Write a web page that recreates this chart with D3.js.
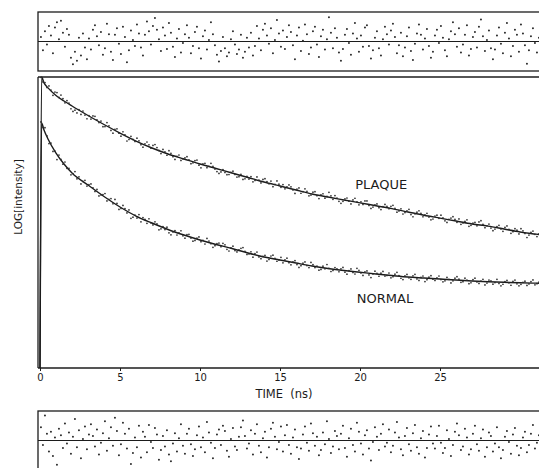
<!DOCTYPE html>
<html lang="en">
<head>
  <meta charset="UTF-8">
  <title>Fluorescence decay: plaque vs normal</title>
  <script src="https://d3js.org/d3.v7.min.js"></script>
  <style>
    body { margin: 0; background: #fff; }
    svg { display: block; }
  </style>
</head>
<body>
  <svg width="539" height="468"></svg>
  <script>
    // fitted decay curves, LOG(intensity)
    const fitTimes = [0, 0.1, 0.25, 0.5, 1, 1.5, 2, 3, 4, 5, 6, 7, 8, 9, 10, 11, 12, 13, 14, 15, 16,
      17, 18, 19, 20, 21, 22, 23, 24, 25, 26, 27, 28, 29, 30, 31, 32];
    const plaqueFit = [0, 4.0, 3.92, 3.85, 3.746, 3.670, 3.601, 3.471, 3.347, 3.230, 3.120, 3.024, 2.942,
      2.873, 2.804, 2.742, 2.680, 2.619, 2.557, 2.502, 2.447, 2.392, 2.35, 2.31, 2.27, 2.23, 2.19, 2.145,
      2.10, 2.06, 2.02, 1.98, 1.95, 1.91, 1.87, 1.84, 1.81];
    const normalFit = [0, 3.368, 3.271, 3.148, 2.955, 2.804, 2.680, 2.515, 2.357, 2.213, 2.089, 1.993, 1.904,
      1.828, 1.759, 1.698, 1.643, 1.581, 1.526, 1.485, 1.443, 1.402, 1.368, 1.340, 1.316, 1.292, 1.271,
      1.251, 1.237, 1.223, 1.209, 1.196, 1.186, 1.178, 1.171, 1.166, 1.160];

    // weighted residuals, one per channel (0.125 ns)
    const channelWidth = 0.125;
    const plaqueResid = [
      0.6,-1.2,1.4,-0.4,2.1,0.8,-1.6,1.9,2.6,0.3,2.8,1.2,-0.7,1.7,0.9,-2.2,-3.1,-1.4,-2.6,0.5,-1.9,1.1,-0.8,-2.4,0.4,
      -1.1,1.6,2.2,0.7,-0.5,1.3,-1.8,-0.9,2.4,1.0,-1.4,-2.5,0.9,1.8,-0.3,-1.7,2.0,0.6,-2.8,-1.2,1.5,0.2,-0.6,2.3,1.1,
      -0.8,-1.9,0.9,2.7,1.4,-0.4,2.1,3.2,1.6,0.3,-1.3,1.9,0.8,-1.0,2.5,1.2,-0.7,-2.1,0.4,1.7,-1.5,-0.2,1.0,2.2,0.5,
      -1.6,-0.6,1.3,2.0,-0.9,-2.3,0.7,1.5,-1.1,0.2,2.6,1.0,-0.5,-1.8,-2.7,-1.3,0.6,-0.9,-2.0,-1.5,0.3,1.4,-0.4,-1.7,-1.1,
      0.9,-2.2,-1.4,0.5,-0.8,1.2,-1.9,-0.6,2.1,0.4,-1.2,1.6,2.4,0.8,-0.3,1.8,-1.6,0.2,2.9,1.1,-0.7,1.5,-1.0,0.6,2.2,
      1.3,-0.5,-2.4,0.8,1.9,-1.3,0.1,2.3,1.0,-1.7,-0.8,1.4,2.0,-0.4,-2.1,0.7,1.6,-1.1,0.3,3.3,1.2,-0.9,1.8,0.5,-1.5,
      -2.6,-1.0,0.9,1.7,-0.2,-1.8,1.1,2.5,0.4,-1.4,0.8,-0.7,1.9,2.2,-0.6,-2.3,-1.2,0.5,1.4,-0.9,-1.9,0.3,2.0,1.0,-0.4,
      1.5,2.4,0.6,-1.6,-0.5,1.2,-2.0,-0.8,0.7,1.9,-1.3,-2.5,-0.3,1.1,2.3,0.9,-1.1,0.4,1.7,-0.6,-2.2,-1.4,0.8,1.6,-0.2,
      2.1,0.5,-1.2,-2.0,0.3,1.4,2.6,1.0,-0.7,1.8,-1.5,-0.4,0.9,2.2,-1.9,-1.0,0.6,1.3,-0.8,2.0,3.0,0.7,-1.3,0.2,1.5,
      -0.9,-2.4,-1.1,0.8,1.9,-0.3,-1.6,1.2,2.5,0.4,-2.0,-0.6,1.6,0.9,-1.4,2.3,1.1,-0.5,-3.0,-1.2,0.7,1.8,-0.2,-1.5,0.5
    ];
    const normalResid = [
      1.8,-0.6,3.4,0.9,-1.5,1.2,-2.1,0.4,-3.3,1.6,0.7,-1.0,2.3,-0.4,1.1,-1.8,0.5,2.9,-0.9,1.4,-2.4,0.2,1.9,-1.2,0.8,
      2.2,0.6,-0.8,1.5,-1.9,-0.3,1.0,2.6,-1.4,0.3,1.8,-0.7,3.1,1.3,-2.0,-0.5,2.4,0.9,-1.1,1.6,-3.2,-1.7,0.4,-0.9,2.0,
      -2.3,1.2,0.5,-1.6,2.1,-0.2,-1.0,1.7,0.8,-2.6,-1.3,0.6,-0.8,1.4,-1.9,-2.8,-0.4,1.0,-1.5,0.3,2.2,-0.7,-1.8,0.9,1.6,
      -0.5,-2.1,-1.2,0.7,1.9,-0.9,0.4,-1.6,2.5,1.1,-0.3,-2.4,-1.0,0.8,1.5,-0.6,2.0,1.3,-1.4,-2.2,0.2,1.7,-0.8,-1.3,0.5,
      1.8,2.7,0.6,-1.1,-0.4,1.4,-1.9,0.9,2.2,-0.7,-1.6,0.3,1.2,-2.3,-0.9,1.6,2.4,0.5,-1.2,-0.2,1.9,-1.5,0.7,2.1,-0.6,
      -1.8,0.4,1.5,-0.9,-2.5,-1.1,0.8,1.9,-0.3,-1.4,2.3,1.0,-0.7,0.5,-2.0,-1.3,1.1,-0.5,2.6,0.2,-1.7,-0.8,1.3,0.6,-1.2,
      0.9,2.0,-1.0,-2.2,0.3,1.6,-0.6,-1.5,2.4,1.2,-0.4,-1.9,0.7,1.4,-1.1,-2.7,-0.2,1.8,0.5,-1.3,0.9,2.2,-0.8,-0.3,1.5,
      -1.6,-0.7,1.1,2.5,0.4,-1.2,-2.0,0.6,1.7,-0.5,-1.4,1.0,2.1,-0.9,-1.8,0.3,1.3,-2.3,-1.0,0.8,1.9,-0.4,-1.1,0.6,2.0,
      -0.3,-1.7,-1.0,1.4,0.2,-2.1,-0.6,1.2,2.3,0.7,-1.3,-0.8,1.6,0.4,-1.9,-1.2,0.9,2.0,-0.5,-1.4,0.3,1.5,-2.2,-0.9,1.1,
      0.6,-1.5,-0.4,1.8,-0.9,-2.4,-1.3,0.5,1.3,-0.2,-1.8,0.8,1.7,-0.7,-2.0,-1.0,0.4,1.2,-1.6,-0.6,0.9,2.1,-1.1,-0.3,0.7
    ];

    const xTicks = [0, 5, 10, 15, 20, 25];
    const labels = [
      { name: "PLAQUE", t: 19.7, v: 2.46 },
      { name: "NORMAL", t: 19.8, v: 0.9 }
    ];

    const ink = "#1c1c1c";
    const svg = d3.select("svg");
    const font = "'DejaVu Sans', sans-serif";

    const x = d3.scaleLinear().domain([0, 35]).range([40, 600]);
    const y = d3.scaleLinear().domain([0, 4]).range([368, 77]);
    const yRes = d3.scaleLinear().domain([-4, 4]).range([29.5, -29.5]);

    // residual panels (top: plaque, bottom: normal)
    function residPanel(top, resid) {
      const g = svg.append("g").attr("transform", `translate(0,${top})`);
      g.append("rect")
        .attr("x", 38).attr("y", 0).attr("width", 560).attr("height", 59)
        .attr("fill", "none").attr("stroke", ink).attr("stroke-width", 1.3);
      g.append("line")
        .attr("x1", 38).attr("x2", 600)
        .attr("y1", 29.5 + yRes(0)).attr("y2", 29.5 + yRes(0))
        .attr("stroke", ink).attr("stroke-width", 1.1);
      g.append("g").selectAll("circle")
        .data(resid)
        .join("circle")
          .attr("cx", (d, i) => x(i * channelWidth + 0.06))
          .attr("cy", d => 29.5 + yRes(d))
          .attr("r", 1)
          .attr("fill", "#2a2a2a");
    }
    residPanel(12, plaqueResid);
    residPanel(411, normalResid);

    // main panel frame
    svg.append("line")
      .attr("x1", 38).attr("x2", 600).attr("y1", 77).attr("y2", 77)
      .attr("stroke", ink).attr("stroke-width", 1.3);
    svg.append("line")
      .attr("x1", 38).attr("x2", 38).attr("y1", 77).attr("y2", 368)
      .attr("stroke", ink).attr("stroke-width", 1.3);

    const xAxis = svg.append("g")
      .attr("transform", "translate(0,368)")
      .call(d3.axisBottom(x).tickValues(xTicks).tickSize(3).tickSizeOuter(0).tickPadding(3));
    xAxis.select(".domain").attr("stroke", ink).attr("stroke-width", 1.3)
      .attr("d", "M38,0H600");
    xAxis.selectAll(".tick line").attr("stroke", ink);
    xAxis.selectAll("text").attr("font-family", font).attr("font-size", 10).attr("fill", ink);

    svg.append("text")
      .attr("x", 284).attr("y", 398)
      .attr("text-anchor", "middle")
      .attr("font-family", font).attr("font-size", 11.5).attr("fill", ink)
      .attr("xml:space", "preserve")
      .text("TIME  (ns)");

    svg.append("text")
      .attr("transform", "translate(22,197) rotate(-90)")
      .attr("text-anchor", "middle")
      .attr("font-family", font).attr("font-size", 10.5).attr("fill", ink)
      .text("LOG[intensity]");

    const line = d3.line()
      .x(d => x(d[0]))
      .y(d => y(d[1]))
      .curve(d3.curveMonotoneX);

    function decay(fit, resid) {
      const path = svg.append("path")
        .datum(fitTimes.map((t, i) => [t, fit[i]]))
        .attr("fill", "none")
        .attr("stroke", ink)
        .attr("stroke-width", 1.4)
        .attr("d", line);
      // sample the drawn fit so data points can sit on it
      const node = path.node();
      const len = node.getTotalLength();
      const samples = [];
      for (let l = 0; l <= len; l += 0.5) samples.push(node.getPointAtLength(l));
      const bis = d3.bisector(p => p.x).left;
      const lateSamples = samples.filter(p => p.x > x(0.15));
      svg.append("g").selectAll("circle")
        .data(resid)
        .join("circle")
          .attr("cx", (d, i) => x(i * channelWidth + 0.06))
          .attr("cy", (d, i) => {
            const cx = x(i * channelWidth + 0.06);
            const p = lateSamples[Math.min(bis(lateSamples, cx), lateSamples.length - 1)];
            return p.y - d * 1.5;
          })
          .attr("r", 0.85)
          .attr("fill", "#2a2a2a");
    }
    decay(plaqueFit, plaqueResid);
    decay(normalFit, normalResid);

    svg.append("g").selectAll("text")
      .data(labels)
      .join("text")
        .attr("x", d => x(d.t))
        .attr("y", d => y(d.v))
        .attr("font-family", font).attr("font-size", 13).attr("fill", ink)
        .text(d => d.name);
  </script>
</body>
</html>
